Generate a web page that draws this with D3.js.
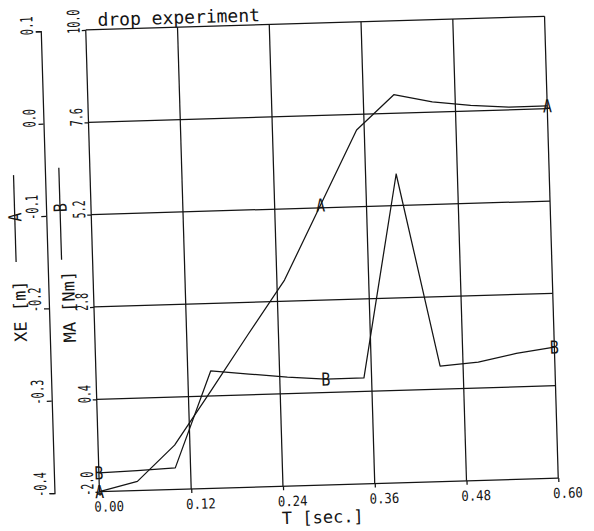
<!DOCTYPE html>
<html><head><meta charset="utf-8">
<script src="https://cdn.jsdelivr.net/npm/d3@7"></script>
<style>html,body{margin:0;padding:0;background:#fff;} svg{display:block;}</style>
</head><body>
<svg id="c" width="594" height="531"></svg>
<script>
// ---- data ----
const T  = [0.00, 0.05, 0.10, 0.15, 0.20, 0.25, 0.30, 0.35, 0.40, 0.45, 0.50, 0.55, 0.60];
const XE = [-0.400, -0.390, -0.352, -0.294, -0.235, -0.177, -0.097, -0.017, 0.020, 0.011, 0.006, 0.003, 0.003];
const MA = [-1.51, -1.48, -1.44, 1.05, 0.94, 0.83, 0.75, 0.75, 6.02, 1.00, 1.075, 1.27, 1.405];
const markerT = [0.00, 0.30, 0.60];
const tTicks  = [0.00, 0.12, 0.24, 0.36, 0.48, 0.60];
const xeTicks = [-0.4, -0.3, -0.2, -0.1, 0.0, 0.1];
const maTicks = [-2.0, 0.4, 2.8, 5.2, 7.6, 10.0];
const title = "drop experiment";
const xTitle = "T [sec.]";
const xeTitle = "XE [m]";
const maTitle = "MA [Nm]";
const xeMark = "A";
const maMark = "B";

// ---- layout ----
const L = 92.5, R = 551.5, TOP = 23, BOT = 485, XEAX = 47.5;
const ink = '#141414', font = "'DejaVu Sans Mono', monospace", sw = 1.25;
const ADV = 0.602; // monospace advance per em

const svg = d3.select('#c');
svg.append('rect').attr('width', 594).attr('height', 531).attr('fill', '#fff');
const g = svg.append('g').attr('transform', 'rotate(-1.7,322,254)');

const x = d3.scaleLinear().domain([0, 0.6]).range([L, R]);
const yMA = d3.scaleLinear().domain([-2, 10]).range([BOT, TOP]);
const yXE = d3.scaleLinear().domain([-0.4, 0.1]).range([BOT, TOP]);

// grid (includes frame)
g.selectAll('line.h').data(maTicks).join('line').attr('class', 'h')
  .attr('x1', L).attr('x2', R).attr('y1', d => yMA(d)).attr('y2', d => yMA(d))
  .attr('stroke', ink).attr('stroke-width', sw);
g.selectAll('line.v').data(tTicks).join('line').attr('class', 'v')
  .attr('y1', TOP).attr('y2', BOT).attr('x1', d => x(d)).attr('x2', d => x(d))
  .attr('stroke', ink).attr('stroke-width', sw);

function styleText(sel, size) {
  sel.attr('font-family', font).attr('font-size', size).attr('fill', ink);
}
// condensed text: pre = transform prefix, a = along-text offset, b = baseline offset
function condensed(sel, size, cw, pre, a, b) {
  const k = cw / (ADV * size);
  sel.call(styleText, size)
     .attr('transform', `${pre} scale(${k.toFixed(4)},1)`)
     .attr('x', a / k).attr('y', b).attr('dy', null);
}

// x axis
const gx = g.append('g').attr('transform', `translate(0,${BOT})`)
  .call(d3.axisBottom(x).tickValues(tTicks).tickSize(4).tickFormat(d => d.toFixed(2)));
gx.select('.domain').remove();
gx.selectAll('.tick line').attr('stroke', ink).attr('stroke-width', sw);
gx.selectAll('.tick text').attr('text-anchor', 'start').call(condensed, 14, 7.4, '', -6, 20);

// MA axis (on frame left)
const gm = g.append('g').attr('transform', `translate(${L},0)`)
  .call(d3.axisLeft(yMA).tickValues(maTicks).tickSize(4).tickFormat(d => d.toFixed(1)));
gm.select('.domain').remove();
gm.selectAll('.tick line').attr('stroke', ink).attr('stroke-width', sw);
gm.selectAll('.tick text').attr('text-anchor', 'start').call(condensed, 17, 6, 'rotate(-90)', -3, -6);

// XE axis (separate line)
const ge = g.append('g').attr('transform', `translate(${XEAX},0)`)
  .call(d3.axisLeft(yXE).tickValues(xeTicks).tickSize(5).tickFormat(d => d.toFixed(1)));
ge.select('.domain').attr('stroke', ink).attr('stroke-width', sw);
ge.selectAll('.tick line').attr('stroke', ink).attr('stroke-width', sw);
ge.selectAll('.tick text').attr('text-anchor', 'start').call(condensed, 17, 6.2, 'rotate(-90)', -3, -8);

// titles
g.append('text').attr('x', L + 12).attr('y', TOP - 3.5).text(title).call(styleText, 18);
g.append('text').attr('x', 274).attr('y', 523).text(xTitle).call(styleText, 17);
g.append('text').attr('transform', 'translate(24.5,333) rotate(-90)').text(xeTitle).call(styleText, 17);
g.append('text').attr('transform', 'translate(73.5,335) rotate(-90)').text(maTitle).call(styleText, 17);

// legend samples
g.append('line').attr('x1', 16).attr('x2', 16).attr('y1', 166).attr('y2', 253).attr('stroke', ink).attr('stroke-width', sw);
g.append('text').attr('text-anchor', 'middle').text(xeMark)
  .call(condensed, 18, 9, 'translate(16,208) rotate(-90)', 0, 6.5);
g.append('line').attr('x1', 61.5).attr('x2', 61.5).attr('y1', 160).attr('y2', 252).attr('stroke', ink).attr('stroke-width', sw);
g.append('text').attr('text-anchor', 'middle').text(maMark)
  .call(condensed, 18, 9, 'translate(61.5,200) rotate(-90)', 0, 6.5);

// series lines
const lineXE = d3.line().x((d, i) => x(T[i])).y(d => yXE(d));
const lineMA = d3.line().x((d, i) => x(T[i])).y(d => yMA(d));
g.append('path').attr('d', lineXE(XE)).attr('fill', 'none').attr('stroke', ink).attr('stroke-width', sw).attr('stroke-linejoin', 'round');
g.append('path').attr('d', lineMA(MA)).attr('fill', 'none').attr('stroke', ink).attr('stroke-width', sw).attr('stroke-linejoin', 'round');

// markers
const mXE = markerT.map(t => ({ t, v: XE[T.indexOf(t)] }));
const mMA = markerT.map(t => ({ t, v: MA[T.indexOf(t)] }));
g.selectAll('text.ma').data(mXE).join('text').attr('class', 'ma').attr('text-anchor', 'middle').text(xeMark)
  .each(function (d) {
    d3.select(this).call(condensed, 18, 9, `translate(${x(d.t)},${yXE(d.v)})`, 0, 6.5);
  });
g.selectAll('text.mb').data(mMA).join('text').attr('class', 'mb').attr('text-anchor', 'middle').text(maMark)
  .each(function (d) {
    d3.select(this).call(condensed, 18, 9, `translate(${x(d.t)},${yMA(d.v)})`, 0, 6.5);
  });
</script>
</body></html>
